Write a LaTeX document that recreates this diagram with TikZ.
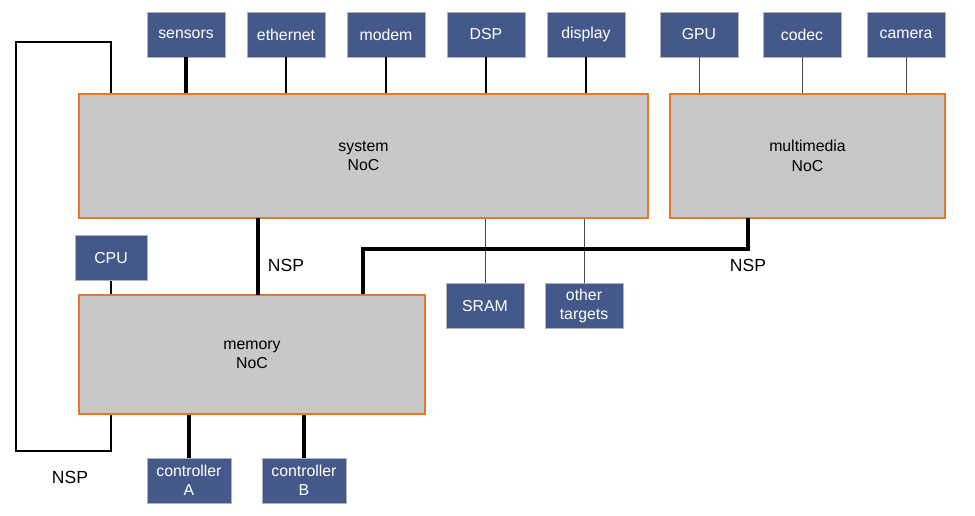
\documentclass[tikz,border=0pt]{standalone}
\usepackage{fontspec}
\setmainfont{Liberation Sans}
\usetikzlibrary{positioning}
\definecolor{ipblue}{HTML}{44598A}
\definecolor{nocgray}{HTML}{C8C8C8}
\definecolor{nocedge}{HTML}{E8772E}
\tikzset{
  ip/.style={draw=gray!60, fill=ipblue, text=white, minimum width=1.56cm, minimum height=0.9cm, inner sep=1pt, align=center, font=\small, line width=0.4pt},
  noc/.style={draw=nocedge, fill=nocgray, line width=1pt, align=center, font=\small},
  heavy/.style={line width=2pt},
  medium/.style={line width=1.2pt},
  light/.style={line width=0.6pt},
  faint/.style={line width=0.5pt, black!70}
}
\begin{document}
\begin{tikzpicture}[x=0.02cm, y=-0.02cm]
\useasboundingbox (0,0) rectangle (975,516);
% NoCs
\node[noc, minimum width=11.38cm, minimum height=2.48cm] (sys) at (363.5,156) {system\\NoC};
\node[noc, minimum width=5.5cm, minimum height=2.48cm] (mm) at (807.5,156) {multimedia\\NoC};
\node[noc, minimum width=6.92cm, minimum height=2.38cm] (mem) at (252,354.5) {memory\\NoC};
% targets and initiators
\node[ip] (sensors) at (186,34.5) {sensors};
\node[ip] (ethernet) at (286,34.5) {ethernet};
\node[ip] (modem) at (386,34.5) {modem};
\node[ip] (dsp) at (486,34.5) {DSP};
\node[ip] (display) at (586,34.5) {display};
\node[ip] (gpu) at (699,34.5) {GPU};
\node[ip] (codec) at (802,34.5) {codec};
\node[ip] (camera) at (906,34.5) {camera};
\node[ip, minimum width=1.44cm] (cpu) at (111,258) {CPU};
\node[ip] (sram) at (485,306) {SRAM};
\node[ip] (other) at (584,306) {other\\targets};
\node[ip, minimum width=1.68cm] (ctrla) at (189,480.5) {controller\\A};
\node[ip, minimum width=1.68cm] (ctrlb) at (304,480.5) {controller\\B};
% links
\draw[heavy] (sensors) -- (sensors |- sys.north);
\draw[medium] (ethernet) -- (ethernet |- sys.north);
\draw[light] (modem) -- (modem |- sys.north);
\draw[light] (dsp) -- (dsp |- sys.north);
\draw[medium] (display) -- (display |- sys.north);
\draw[faint] (gpu) -- (gpu |- mm.north);
\draw[faint] (codec) -- (codec |- mm.north);
\draw[faint] (camera) -- (camera |- mm.north);
\draw[faint] (sram) -- (sram |- sys.south);
\draw[faint] (other) -- (other |- sys.south);
\draw[light] (cpu) -- (cpu |- mem.north);
\draw[heavy] (ctrla) -- (ctrla |- mem.south);
\draw[heavy] (ctrlb) -- (ctrlb |- mem.south);
% NSP links
\coordinate (up) at (111,42);
\coordinate (down) at (16,451);
\draw[medium] (up |- sys.north) -- (up) -| (down) -| (up |- mem.south);
\node (nspa) at (70,477) {NSP};
\draw[heavy] (258,218) -- (258,295);
\node (nspb) at (286,265) {NSP};
\coordinate (join) at (363,249);
\draw[heavy] (join |- mem.north) -- (join) -| (748,218);
\node (nspc) at (748,265) {NSP};
\end{tikzpicture}
\end{document}
